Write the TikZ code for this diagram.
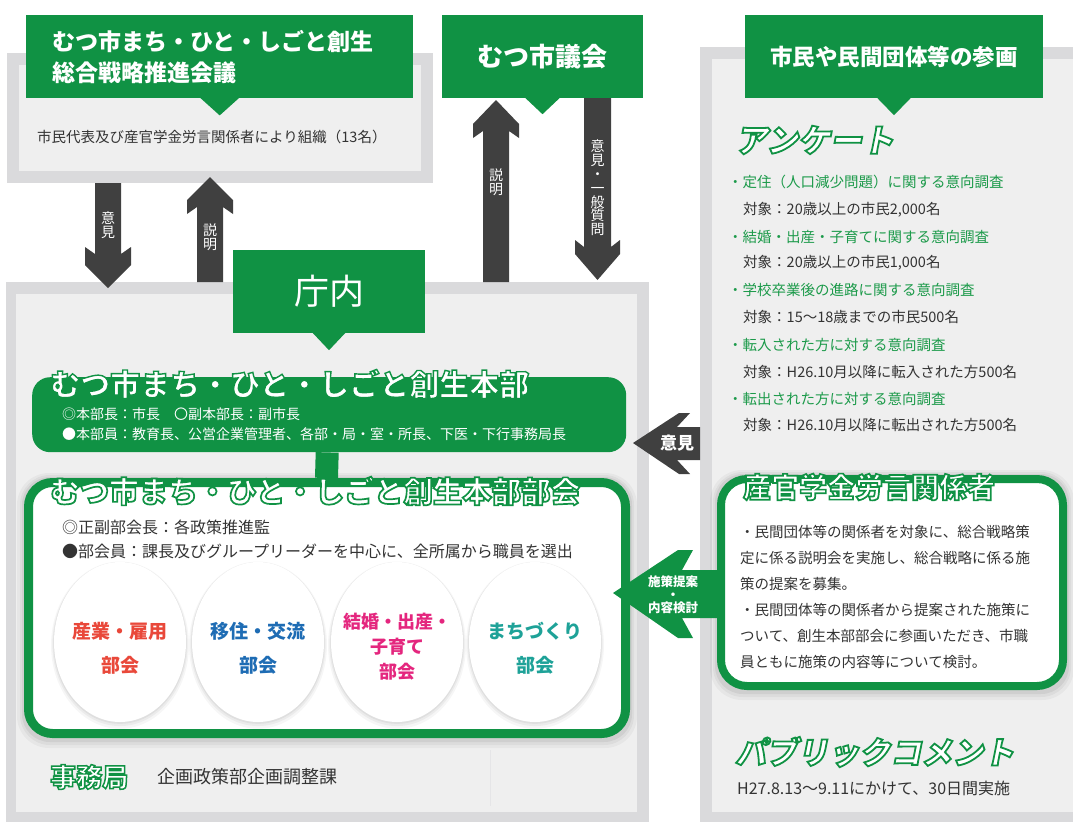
\documentclass[tikz,border=0pt]{standalone}
\usepackage{fontspec}
\newfontfamily\jp{Noto Sans CJK JP}
\newfontfamily\jpsl{Noto Sans CJK JP}[FakeSlant=0.2]
\usetikzlibrary{shapes.geometric,shadows}
\definecolor{gr}{RGB}{16,146,68}
\definecolor{gtx}{RGB}{28,154,74}
\definecolor{dk}{RGB}{64,64,64}
\definecolor{og}{RGB}{218,218,220}
\definecolor{ig}{RGB}{239,239,239}
\definecolor{tx}{RGB}{51,51,51}
\definecolor{cred}{RGB}{233,72,58}
\definecolor{cblue}{RGB}{30,108,180}
\definecolor{cmag}{RGB}{228,38,126}
\definecolor{cteal}{RGB}{30,162,152}
\newcommand\fsz[2]{\fontsize{#1}{#2}\selectfont}
\newcommand\olt[2][1.6]{\special{pdf:literal direct 2 Tr #1 w 0.063 0.573 0.267 RG}#2\special{pdf:literal direct 0 Tr}}
\newcommand\boxhalo[4]{%
  \fill[black, opacity=0.035, rounded corners=32] (#1-7,#2-5) rectangle (#3+7,#4+10);
  \fill[black, opacity=0.045, rounded corners=30] (#1-4,#2-3) rectangle (#3+4,#4+7);
  \fill[black, opacity=0.06, rounded corners=28] (#1-2,#2-1) rectangle (#3+2,#4+4);}
\tikzset{
  hdr/.style={fill=gr, text=white, inner sep=0, font=\jp\bfseries},
  dkarrow/.style={fill=dk},
  vtxt/.style={text=white, align=center, inner sep=0, font=\jp\fsz{14}{14.5}},
  lst/.style={anchor=west, inner sep=0, text=gtx, font=\jp\fsz{14.5}{17}},
  tgt/.style={anchor=west, inner sep=0, text=tx, font=\jp\fsz{14.5}{17}},
  oltxt/.style={anchor=west, inner sep=0, text=white},
  halo/.style={
    general shadow={fill=black, opacity=0.035, shadow scale=1.045, shadow yshift=-3pt},
    general shadow={fill=black, opacity=0.045, shadow scale=1.025, shadow yshift=-2pt},
    general shadow={fill=black, opacity=0.05, shadow scale=1.01, shadow yshift=-1pt}},
  circ/.style={ellipse, fill=white, minimum width=132, minimum height=160, inner sep=0, halo},
  ctxt/.style={align=center, inner sep=0, font=\jp\bfseries\fsz{19}{34}},
}
\begin{document}
\begin{tikzpicture}[x=1pt,y=-1pt]
\useasboundingbox (0,0) rectangle (1073,822);
\fill[white] (0,0) rectangle (1073,822);

% gray frames
\fill[og] (7,53) rectangle (433,183);
\fill[ig] (19,65) rectangle (421,171);
\fill[og] (6,282) rectangle (649,822);
\fill[ig] (16,294) rectangle (637,812);
\fill[og] (700,47) rectangle (1073,822);
\fill[ig] (712,59) rectangle (1073,812);
\draw[og!70, line width=1] (490,750) -- (490,806);

% headers
\node[hdr, anchor=north west, minimum width=387, minimum height=83, text width=335, inner xsep=26, align=left, font=\jp\bfseries\fsz{23}{31}] (kaigi) at (26,15) {むつ市まち・ひと・しごと創生\\総合戦略推進会議};
\fill[gr] (kaigi.south) ++(-20,-1) -- ++(40,0) -- ++(-20,18) -- cycle;
\node[tgt] (kaigit) at (37,137) {市民代表及び産官学金労言関係者により組織（13名）};

\node[hdr, minimum width=201, minimum height=83, font=\jp\bfseries\fsz{26}{30}] (gikai) at (542.5,56.5) {むつ市議会};
\fill[gr] (gikai.south) ++(-18,-1) -- ++(36,0) -- ++(-18,17) -- cycle;

\node[hdr, minimum width=298, minimum height=83, font=\jp\bfseries\fsz{22.5}{26}] (shimin) at (894,56.5) {市民や民間団体等の参画};
\fill[gr] (shimin.south) ++(-17.5,-1) -- ++(35,0) -- ++(-17.5,18) -- cycle;

\node[hdr, minimum width=192, minimum height=83, font=\jp\fsz{35}{38}] (chonai) at (329,291.5) {庁内};
\fill[gr] (chonai.south) ++(-17,-1) -- ++(34,0) -- ++(-17,18) -- cycle;

% dark block arrows
\fill[dkarrow] (95,183) -- (95,254) -- (85,247) -- (85,265) -- (108,288) -- (131,265) -- (131,247) -- (121,254) -- (121,183) -- cycle;
\node[vtxt] (a1t) at (108,225) {意\\見};
\fill[dkarrow] (197,282) -- (197,207) -- (187,214) -- (187,200) -- (210,177) -- (233,200) -- (233,214) -- (223,207) -- (223,282) -- cycle;
\node[vtxt] (a2t) at (210,237) {説\\明};
\fill[dkarrow] (483,282) -- (483,131) -- (473,138) -- (473,124) -- (496,100) -- (519,124) -- (519,138) -- (509,131) -- (509,282) -- cycle;
\node[vtxt] (a3t) at (496,182) {説\\明};
\fill[dkarrow] (584,98) -- (584,247) -- (575,240) -- (575,254) -- (597.5,280) -- (620,254) -- (620,240) -- (611,247) -- (611,98) -- cycle;
\node[vtxt, font=\jp\fsz{14}{13.8}] (a4t) at (597.5,188) {意\\見\\・\\一\\般\\質\\問};

% honbu
\node[fill=gr, rounded corners=18, minimum width=594, minimum height=75, inner sep=0, anchor=north west] (honbu) at (32,377) {};
\node[oltxt, font=\jp\bfseries\fsz{30}{34}] (honbut) at (50,384) {\olt[1.4]{むつ市まち・ひと・しごと創生本部}};
\node[anchor=west, inner sep=0, text=white, font=\jp\fsz{14}{17}] (h1) at (62,414) {◎本部長：市長　〇副本部長：副市長};
\node[anchor=west, inner sep=0, text=white, font=\jp\fsz{14}{17}] (h2) at (62,434) {●本部員：教育長、公営企業管理者、各部・局・室・所長、下医・下行事務局長};

% bukai
\boxhalo{24}{478}{630}{738}
\node[draw=gr, line width=9, fill=white, rounded corners=24, minimum width=597, minimum height=251, inner sep=0] (bukai) at (327,608) {};
\draw[gr, line width=23] ([xshift=-2]honbu.south) -- ([xshift=-0.5]bukai.north);
\node[oltxt, font=\jp\bfseries\fsz{29.5}{34}] (bukait) at (50,491) {\olt[1.7]{むつ市まち・ひと・しごと創生本部部会}};
\node[tgt, font=\jp\fsz{16}{19}] (b1) at (62,527) {◎正副部会長：各政策推進監};
\node[tgt, font=\jp\fsz{16}{19}] (b2) at (62,551) {●部会員：課長及びグループリーダーを中心に、全所属から職員を選出};

\node[circ] (c1) at (120,642) {};
\node[circ] (c2) at (258,642) {};
\node[circ] (c3) at (397,642) {};
\node[circ] (c4) at (535,642) {};
\node[ctxt, text=cred] (c1t) at (120,648) {産業・雇用\\部会};
\node[ctxt, text=cblue] (c2t) at (258,648) {移住・交流\\部会};
\node[ctxt, text=cmag, font=\jp\bfseries\fsz{18}{25}] (c3t) at (397,647) {結婚・出産・\\子育て\\部会};
\node[ctxt, text=cteal] (c4t) at (535,648) {まちづくり\\部会};

% jimukyoku
\node[oltxt, font=\jp\bfseries\fsz{26}{30}] (jim) at (50,777) {\olt[1.5]{事務局}};
\node[tgt, font=\jp\fsz{18}{21}] (jimt) at (157,777) {企画政策部企画調整課};

% right column
\node[oltxt, font=\jpsl\bfseries\fsz{32}{36}] (enq) at (735,140) {\olt[1.8]{アンケート}};
\node[lst] (q1) at (728,182) {・定住（人口減少問題）に関する意向調査};
\node[tgt] (q1t) at (743,210) {対象：20歳以上の市民2,000名};
\node[lst] (q2) at (728,237) {・結婚・出産・子育てに関する意向調査};
\node[tgt] (q2t) at (743,263) {対象：20歳以上の市民1,000名};
\node[lst] (q3) at (728,290) {・学校卒業後の進路に関する意向調査};
\node[tgt] (q3t) at (743,317) {対象：15～18歳までの市民500名};
\node[lst] (q4) at (728,345) {・転入された方に対する意向調査};
\node[tgt] (q4t) at (743,372) {対象：H26.10月以降に転入された方500名};
\node[lst] (q5) at (728,399) {・転出された方に対する意向調査};
\node[tgt] (q5t) at (743,425) {対象：H26.10月以降に転出された方500名};

% iken arrow (left)
\fill[dkarrow] (633,443) -- (679,413) -- (690,413) -- (677,427) -- (700,427) -- (700,460) -- (677,460) -- (690,474) -- (679,474) -- cycle;
\node[inner sep=0, text=white, font=\jp\bfseries\fsz{17}{20}] (ikent) at (677,443) {意見};

% sankan box
\boxhalo{717}{475}{1067}{690}
\node[draw=gr, line width=8, fill=white, rounded corners=26, minimum width=342, minimum height=207, inner sep=0] (sankan) at (892,582.5) {};
\node[oltxt, font=\jp\bfseries\fsz{28}{32}] (sankant) at (743,487) {\olt[1.7]{産官学金労言関係者}};
\node[anchor=north west, inner sep=0, text=tx, align=left, font=\jp\fsz{14.5}{26}] (sankanb) at (740,524.7) {・民間団体等の関係者を対象に、総合戦略策\\定に係る説明会を実施し、総合戦略に係る施\\策の提案を募集。\\・民間団体等の関係者から提案された施策に\\ついて、創生本部部会に参画いただき、市職\\員ともに施策の内容等について検討。};

% shisaku arrow (green, left)
\fill[gr] (613,593) -- (678,550) -- (693,550) -- (682,570) -- (718,570) -- (718,618) -- (682,618) -- (693,638) -- (678,638) -- cycle;
\node[inner sep=0, text=white, align=center, font=\jp\bfseries\fsz{12.5}{13}] (shisakut) at (673,595) {施策提案\\・\\内容検討};

% public comment
\node[oltxt, font=\jpsl\bfseries\fsz{31}{35}] (pub) at (735,752) {\olt[1.8]{パブリックコメント}};
\node[tgt, font=\jp\fsz{16}{19}] (pubt) at (737,788) {H27.8.13～9.11にかけて、30日間実施};
\end{tikzpicture}
\end{document}
